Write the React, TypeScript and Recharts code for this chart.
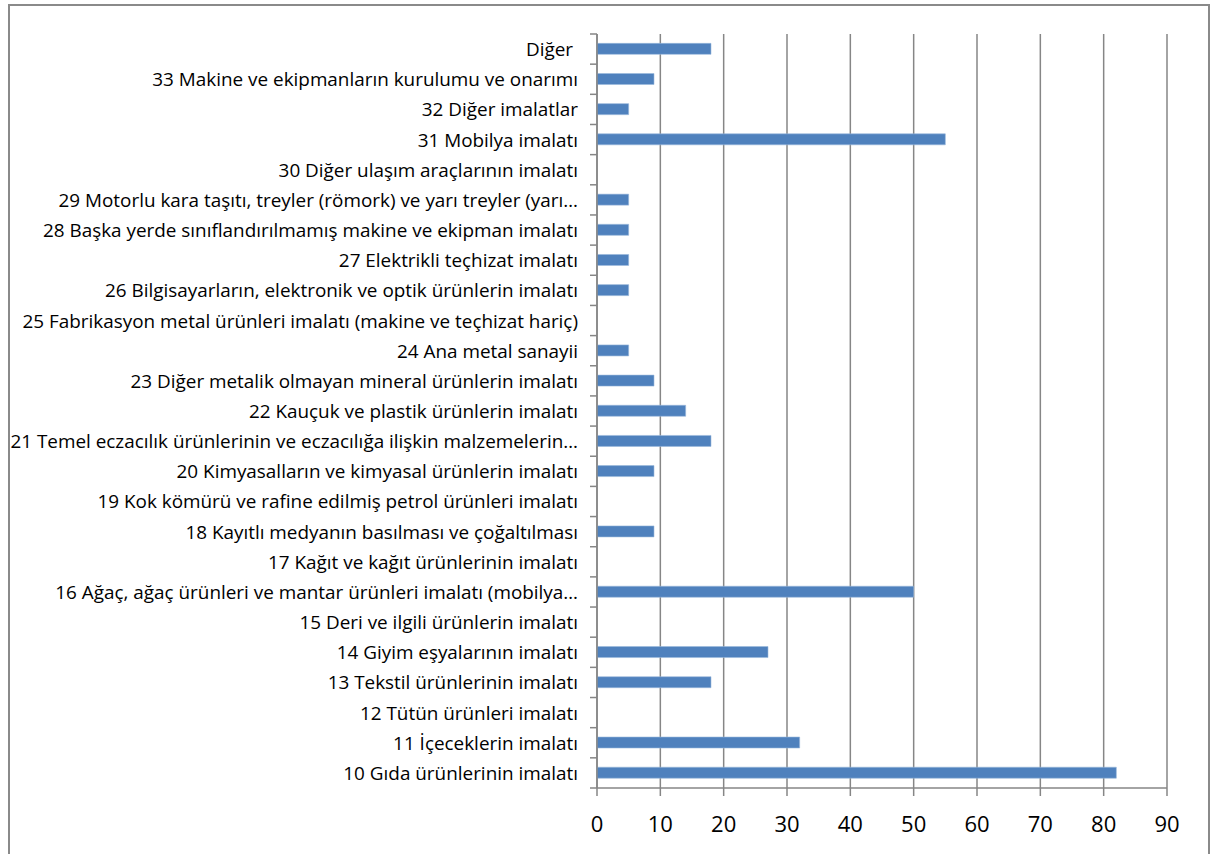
import React from "react";
import { BarChart, Bar, XAxis, YAxis, CartesianGrid } from "recharts";

const categories = [
  "Diğer ",
  "33 Makine ve ekipmanların kurulumu ve onarımı",
  "32 Diğer imalatlar",
  "31 Mobilya imalatı",
  "30 Diğer ulaşım araçlarının imalatı",
  "29 Motorlu kara taşıtı, treyler (römork) ve yarı treyler (yarı…",
  "28 Başka yerde sınıflandırılmamış makine ve ekipman imalatı",
  "27 Elektrikli teçhizat imalatı",
  "26 Bilgisayarların, elektronik ve optik ürünlerin imalatı",
  "25 Fabrikasyon metal ürünleri imalatı (makine ve teçhizat hariç)",
  "24 Ana metal sanayii",
  "23 Diğer metalik olmayan mineral ürünlerin imalatı",
  "22 Kauçuk ve plastik ürünlerin imalatı",
  "21 Temel eczacılık ürünlerinin ve eczacılığa ilişkin malzemelerin…",
  "20 Kimyasalların ve kimyasal ürünlerin imalatı",
  "19 Kok kömürü ve rafine edilmiş petrol ürünleri imalatı",
  "18 Kayıtlı medyanın basılması ve çoğaltılması",
  "17 Kağıt ve kağıt ürünlerinin imalatı",
  "16 Ağaç, ağaç ürünleri ve mantar ürünleri imalatı (mobilya…",
  "15 Deri ve ilgili ürünlerin imalatı",
  "14 Giyim eşyalarının imalatı",
  "13 Tekstil ürünlerinin imalatı",
  "12 Tütün ürünleri imalatı",
  "11 İçeceklerin imalatı",
  "10 Gıda ürünlerinin imalatı",
];

const values = [18, 9, 5, 55, 0, 5, 5, 5, 5, 0, 5, 9, 14, 18, 9, 0, 9, 0, 50, 0, 27, 18, 0, 32, 82];

const xTicks = [0, 10, 20, 30, 40, 50, 60, 70, 80, 90];

const data = categories.map((name, i) => ({ name, value: values[i] }));

const CHART_W = 1215;
const CHART_H = 854;
const MARGIN = { top: 34, right: 48, left: 0, bottom: 0 };
const Y_AXIS_W = 597;
const X_AXIS_H = 66;
const PLOT_H = CHART_H - MARGIN.top - MARGIN.bottom - X_AXIS_H;
const BAND = PLOT_H / categories.length;
const Y_TICK_SIZE = 7;
const Y_TICK_MARGIN = 12;
const AXIS_COLOR = "#868686";
const FONT = "'Open Sans', sans-serif";

function YTick(props: any) {
  const { x, y, payload, index } = props;
  const axisX = x + Y_TICK_SIZE + Y_TICK_MARGIN;
  const isLast = index === categories.length - 1;
  return (
    <g>
      <line x1={axisX - Y_TICK_SIZE} x2={axisX} y1={y - BAND / 2} y2={y - BAND / 2} stroke={AXIS_COLOR} strokeWidth={1.5} />
      {isLast && (
        <line x1={axisX - Y_TICK_SIZE} x2={axisX} y1={y + BAND / 2} y2={y + BAND / 2} stroke={AXIS_COLOR} strokeWidth={1.5} />
      )}
      <text
        x={x}
        y={y}
        textAnchor="end"
        dominantBaseline="central"
        fontFamily={FONT}
        fontSize={18.9}
        fill="#000"
        xmlSpace="preserve"
        style={{ whiteSpace: "pre" }}
      >
        {payload.value}
      </text>
    </g>
  );
}

export default function App() {
  return (
    <div style={{ position: "absolute", left: 0, top: 0, width: CHART_W, height: CHART_H, overflow: "hidden", background: "#fff" }}>
      <div
        style={{
          position: "absolute",
          left: 8,
          top: 4,
          width: 1202,
          height: 850,
          boxSizing: "border-box",
          borderLeft: "2px solid #8a8a8a",
          borderRight: "2px solid #8a8a8a",
          borderTop: "2px solid #8a8a8a",
        }}
      />
      <div style={{ position: "absolute", left: 0, top: 0 }}>
        <BarChart
          width={CHART_W}
          height={CHART_H}
          data={data}
          layout="vertical"
          margin={MARGIN}
          barCategoryGap="31%"
        >
          <CartesianGrid horizontal={false} vertical={true} stroke={AXIS_COLOR} strokeWidth={1.5} />
          <XAxis
            type="number"
            domain={[0, 90]}
            ticks={xTicks}
            interval={0}
            height={X_AXIS_H}
            stroke={AXIS_COLOR}
            strokeWidth={1.5}
            tickSize={8}
            tickMargin={20}
            tick={{ fill: "#000", fontSize: 22, fontFamily: FONT }}
          />
          <YAxis
            type="category"
            dataKey="name"
            width={Y_AXIS_W}
            interval={0}
            stroke={AXIS_COLOR}
            strokeWidth={1.5}
            tickLine={false}
            tickSize={Y_TICK_SIZE}
            tickMargin={Y_TICK_MARGIN}
            tick={<YTick />}
          />
          <Bar dataKey="value" fill="#4F81BD" stroke="#9bb8dc" strokeWidth={0.6} isAnimationActive={false} />
        </BarChart>
      </div>
    </div>
  );
}
